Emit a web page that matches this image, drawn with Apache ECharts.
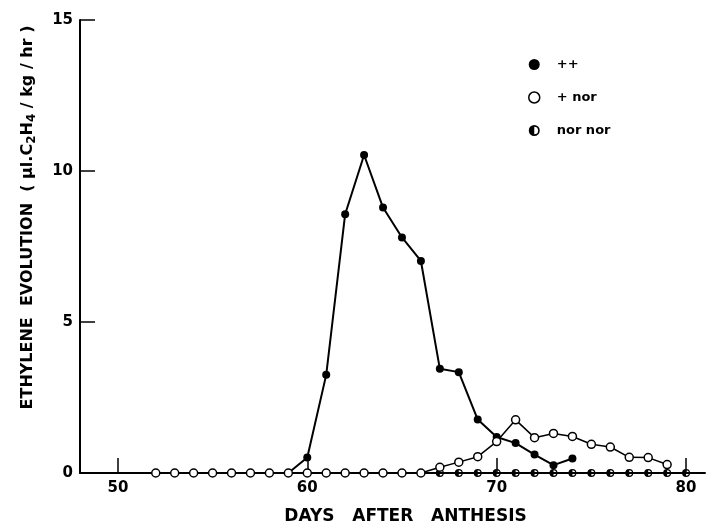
<!DOCTYPE html>
<html>
<head>
<meta charset="utf-8">
<script src="https://cdn.jsdelivr.net/npm/echarts@6/dist/echarts.min.js"></script>
<style>html,body{margin:0;padding:0;background:#fff;}#c{width:718px;height:530px;}</style>
</head>
<body>
<div id="c"></div>
<script>
// ++ series (filled circles)
const daysPP = [59, 60, 61, 62, 63, 64, 65, 66, 67, 68, 69, 70, 71, 72, 73, 74];
const valsPP = [0, 0.51, 3.25, 8.57, 10.53, 8.79, 7.8, 7.02, 3.45, 3.34, 1.77, 1.19, 0.99, 0.61, 0.26, 0.48];
// + nor series (open circles)
const daysPN = [52, 53, 54, 55, 56, 57, 58, 59, 60, 61, 62, 63, 64, 65, 66, 67, 68, 69, 70, 71, 72, 73, 74, 75, 76, 77, 78, 79];
const valsPN = [0, 0, 0, 0, 0, 0, 0, 0, 0, 0, 0, 0, 0, 0, 0, 0.19, 0.36, 0.54, 1.04, 1.76, 1.17, 1.31, 1.21, 0.95, 0.86, 0.52, 0.51, 0.28];
// nor nor series (half-filled circles)
const daysNN = [67, 68, 69, 70, 71, 72, 73, 74, 75, 76, 77, 78, 79, 80];
const valsNN = [0, 0, 0, 0, 0, 0, 0, 0, 0, 0, 0, 0, 0, 0];
const xTicks = [50, 60, 70, 80];
const yTicks = [0, 5, 10, 15];
const names = ['++', '+ nor', 'nor nor'];

const halfSym = 'path://M10,0A10,10 0 1,1 10,20A10,10 0 1,1 10,0Z M10,3L10,17A7,7 0 0,0 10,3Z';
const FONT = 'DejaVu Sans';

function pairs(xs, ys) { return xs.map((x, i) => [x, ys[i]]); }
const ppData = pairs(daysPP, valsPP).map((p, i) => i === 0 ? { value: p, symbol: 'none' } : p);

const chart = echarts.init(document.getElementById('c'));
chart.setOption({
  backgroundColor: '#fff',
  animation: false,
  grid: { left: 80, right: 13, top: 20, bottom: 52, containLabel: false },
  legend: {
    orient: 'vertical', left: 523, top: 53, itemWidth: 11, itemHeight: 11, itemGap: 20,
    textStyle: { fontFamily: FONT, fontWeight: 'bold', fontSize: 13, color: '#000', padding: [0, 0, 0, 12] },
    data: [
      { name: names[0], icon: 'circle', itemStyle: { color: '#000' } },
      { name: names[1], icon: 'circle', itemStyle: { color: '#fff', borderColor: '#000', borderWidth: 1.5 } },
      { name: names[2], icon: halfSym, itemStyle: { color: '#000' } }
    ]
  },
  xAxis: {
    type: 'value', min: 48, max: 81,
    axisLine: { lineStyle: { color: '#000', width: 2 } },
    axisTick: { inside: true, length: 15, customValues: xTicks, lineStyle: { color: '#000', width: 1.5 } },
    axisLabel: { customValues: xTicks, margin: 8, color: '#000', fontFamily: FONT, fontWeight: 'bold', fontSize: 15 },
    splitLine: { show: false },
    name: 'DAYS   AFTER   ANTHESIS', nameLocation: 'middle', nameGap: 35,
    nameTextStyle: { color: '#000', fontFamily: FONT, fontWeight: 'bold', fontSize: 17, padding: [0, 0, 0, 26] }
  },
  yAxis: {
    type: 'value', min: 0, max: 15, interval: 5,
    axisLine: { show: true, lineStyle: { color: '#000', width: 2 } },
    axisTick: { show: true, inside: true, length: 15, lineStyle: { color: '#000', width: 1.5 } },
    axisLabel: { margin: 7, color: '#000', fontFamily: FONT, fontWeight: 'bold', fontSize: 15 },
    splitLine: { show: false },
    name: '{t|ETHYLENE  EVOLUTION  ( μl.C}{s|2}{t|H}{s|4}{t| / kg / hr )}',
    nameLocation: 'middle', nameGap: 42, nameRotate: 90,
    nameTextStyle: {
      padding: [0, 0, 0, 58],
      rich: {
        t: { color: '#000', fontFamily: FONT, fontWeight: 'bold', fontSize: 16 },
        s: { color: '#000', fontFamily: FONT, fontWeight: 'bold', fontSize: 12, padding: [8, 0, 0, 0] }
      }
    }
  },
  series: [
    {
      name: names[2], type: 'line', data: pairs(daysNN, valsNN), symbol: halfSym, symbolSize: 8,
      itemStyle: { color: '#000' },
      lineStyle: { color: '#000', width: 1.5, type: [5, 4] }, z: 2
    },
    {
      name: names[0], type: 'line', data: ppData, symbol: 'circle', symbolSize: 8,
      itemStyle: { color: '#000' },
      lineStyle: { color: '#000', width: 2 }, z: 3
    },
    {
      name: names[1], type: 'line', data: pairs(daysPN, valsPN), symbol: 'circle', symbolSize: 8,
      itemStyle: { color: '#fff', borderColor: '#000', borderWidth: 1.5 },
      lineStyle: { color: '#000', width: 1.5 }, z: 4
    }
  ]
});
</script>
</body>
</html>
